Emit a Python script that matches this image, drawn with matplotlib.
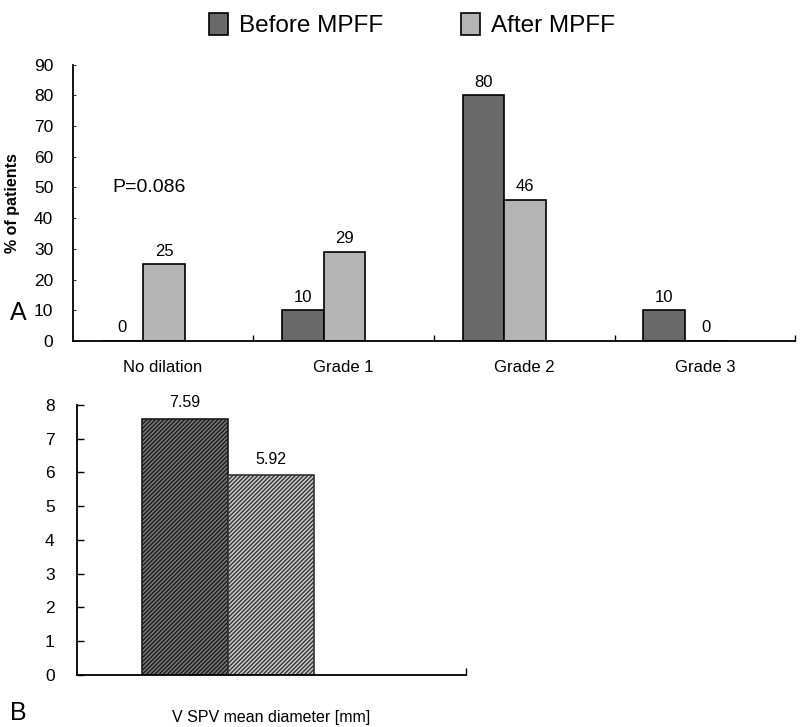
import matplotlib
matplotlib.use("Agg")
import matplotlib.pyplot as plt
import numpy as np

plt.rcParams['font.family'] = ['Liberation Sans', 'DejaVu Sans']
plt.rcParams['hatch.linewidth'] = 1.0

# Panel A data
categories = ['No dilation', 'Grade 1', 'Grade 2', 'Grade 3']
before_pct = [0, 10, 80, 10]
after_pct = [25, 29, 46, 0]
p_text = 'P=0.086'

# Panel B data
diam_label = 'V SPV mean diameter [mm]'
diam_before = 7.59
diam_after = 5.92

dark = '#6a6a6a'
light = '#b4b4b4'

fig = plt.figure(figsize=(8.0, 7.27), dpi=100)

# ---- panel A ----
axA = fig.add_axes([0.091, 0.531, 0.903, 0.380])
x = np.arange(len(categories))
w = 0.23
b1 = axA.bar(x - 0.5 + 0.16, before_pct, w, align='edge', color=dark,
             edgecolor='black', linewidth=1.2, label='Before MPFF')
b2 = axA.bar(x - 0.5 + 0.39, after_pct, w, align='edge', color=light,
             edgecolor='black', linewidth=1.2, label='After MPFF')
for bars, vals in [(b1, before_pct), (b2, after_pct)]:
    for r, v in zip(bars, vals):
        axA.annotate(str(v), (r.get_x() + r.get_width() / 2, v),
                     xytext=(0, 4), textcoords='offset points',
                     ha='center', va='bottom', fontsize=12)

axA.set_xlim(-0.5, 3.5)
axA.set_ylim(0, 90)
axA.set_yticks(range(0, 91, 10))
axA.set_xticks(x + 0.5, minor=False)
axA.set_xticklabels([])
axA.set_xticks(x, minor=True)
axA.set_xticklabels(categories, minor=True, fontsize=12)
axA.tick_params(axis='x', which='minor', length=0, pad=14)
axA.tick_params(axis='x', which='major', direction='in', length=4, width=1)
axA.tick_params(axis='y', direction='in', length=2, width=0.6, labelsize=12.5, pad=14)
for s in ['top', 'right']:
    axA.spines[s].set_visible(False)
for s in ['left', 'bottom']:
    axA.spines[s].set_linewidth(1.3)
axA.set_ylabel('% of patients', fontsize=11.5, fontweight='bold', labelpad=10)
axA.text(-0.28, 50, p_text, fontsize=14, ha='left', va='center')

fig.legend(handles=[b1, b2], loc='upper center', bbox_to_anchor=(0.515, 1.012),
           ncol=2, frameon=False, fontsize=17.5, handlelength=0.8, handleheight=1.0,
           handletextpad=0.45, columnspacing=3.2)

fig.text(0.012, 1 - 313 / 727, 'A', fontsize=18, ha='left', va='center')

# ---- panel B ----
axB = fig.add_axes([0.096, 0.0715, 0.486, 0.3715])
bw = 0.221
rb1 = axB.bar([0.167], [diam_before], bw, align='edge', color='#7a7a7a',
              edgecolor='#1a1a1a', hatch='////////', linewidth=1.2)
rb2 = axB.bar([0.388], [diam_after], bw, align='edge', color='#cccccc',
              edgecolor='#333333', hatch='////////', linewidth=1.2)
for r, v in [(rb1[0], diam_before), (rb2[0], diam_after)]:
    axB.annotate(f'{v:.2f}', (r.get_x() + r.get_width() / 2, v),
                 xytext=(0, 6), textcoords='offset points',
                 ha='center', va='bottom', fontsize=11.5)
axB.set_xlim(0, 1)
axB.set_ylim(0, 8)
axB.set_yticks(range(0, 9))
axB.set_xticks([1])
axB.set_xticklabels([])
axB.tick_params(axis='x', direction='in', length=5, width=1)
axB.tick_params(axis='y', direction='in', length=5, width=1, labelsize=12.5, pad=16)
for s in ['top', 'right']:
    axB.spines[s].set_visible(False)
for s in ['left', 'bottom']:
    axB.spines[s].set_linewidth(1.3)
axB.set_xlabel(diam_label, fontsize=11.5, labelpad=22)

fig.text(0.012, 1 - 713 / 727, 'B', fontsize=18, ha='left', va='center')

fig.savefig('out.png', dpi=100)
